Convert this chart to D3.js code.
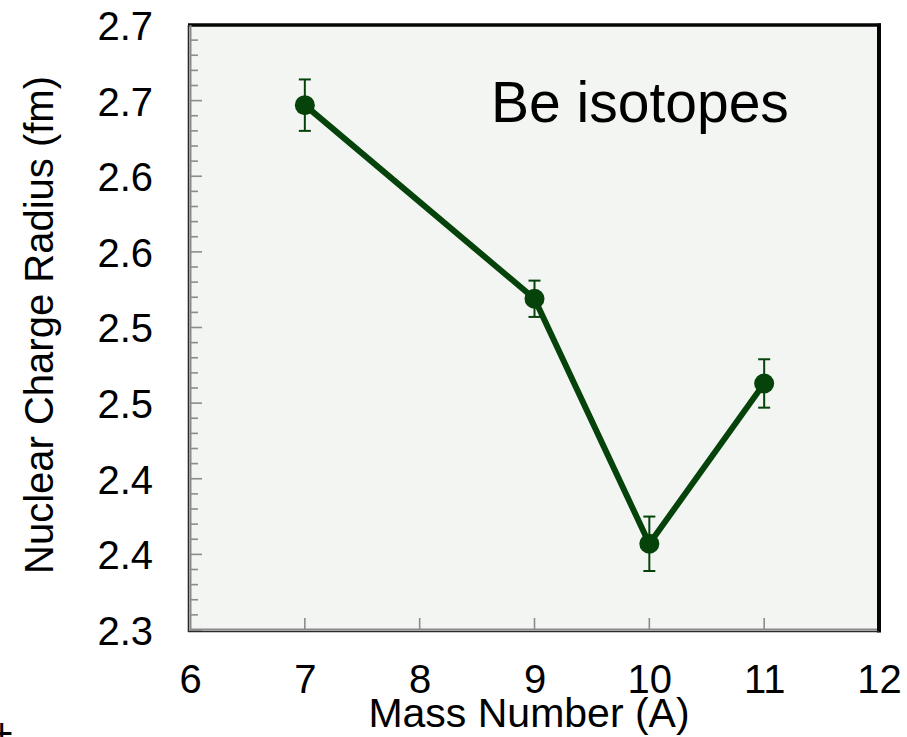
<!DOCTYPE html>
<html>
<head>
<meta charset="utf-8">
<script src="https://cdn.jsdelivr.net/npm/d3@7/dist/d3.min.js"></script>
<style>
  html, body { margin: 0; padding: 0; background: #ffffff; }
  svg { display: block; }
  text { font-family: "Liberation Sans", Arial, Helvetica, sans-serif; fill: #000; }
</style>
</head>
<body>
<svg id="chart" width="907" height="737"></svg>
<script>
// Be isotope charge radii (fm) with uncertainties
const massNumbers = [7, 9, 10, 11];
const radii       = [2.647, 2.519, 2.357, 2.463];
const radiusErrs  = [0.017, 0.012, 0.018, 0.016];

// Axis ticks and their printed labels
const xTicks      = [6, 7, 8, 9, 10, 11, 12];
const yTicks      = [2.30, 2.35, 2.40, 2.45, 2.50, 2.55, 2.60, 2.65, 2.70];
const yTickLabels = ["2.3", "2.4", "2.4", "2.5", "2.5", "2.6", "2.6", "2.7", "2.7"];
const yMinorStep  = 0.01;

(function () {
const svg = d3.select("#chart");
const pLeft = 190, pRight = 879, pTop = 25, pBottom = 630;
const green = "#06430b";

const x = d3.scaleLinear().domain([6, 12]).range([pLeft, pRight]);
const y = d3.scaleLinear().domain([2.3, 2.7]).range([pBottom, pTop]);

// plot panel
svg.append("rect")
  .attr("x", pLeft).attr("y", pTop)
  .attr("width", pRight - pLeft).attr("height", pBottom - pTop)
  .attr("fill", "#f3f5f2");

// inner tick marks (grey)
const minor = d3.range(0, Math.round((2.7 - 2.3) / yMinorStep) + 1).map(i => 2.3 + i * yMinorStep);
svg.append("g").selectAll("line").data(minor).join("line")
  .attr("x1", pLeft).attr("x2", (d, i) => pLeft + (i % 5 === 0 ? 12 : 8))
  .attr("y1", d => y(d)).attr("y2", d => y(d))
  .attr("stroke", "#8c8c8c").attr("stroke-width", 1.6);

svg.append("g").selectAll("line").data(xTicks.slice(1, -1)).join("line")
  .attr("x1", d => x(d)).attr("x2", d => x(d))
  .attr("y1", pBottom).attr("y2", pBottom - 12)
  .attr("stroke", "#8c8c8c").attr("stroke-width", 1.6);

// tick labels via d3 axes
const yAxis = d3.axisLeft(y)
  .tickValues(yTicks)
  .tickFormat((d, i) => yTickLabels[i])
  .tickSize(0).tickPadding(0);
const gy = svg.append("g").attr("transform", `translate(${pLeft - 37},0)`).call(yAxis);
gy.select(".domain").remove();
gy.selectAll("text")
  .style("font-size", "40px")
  .style("font-family", "'Liberation Sans', Arial, sans-serif")
  .attr("fill", "#000")
  .attr("dy", "0.36em");

const xAxis = d3.axisBottom(x).tickValues(xTicks).tickFormat(d3.format("d")).tickSize(0).tickPadding(0);
const gx = svg.append("g").attr("transform", `translate(0,${pBottom})`).call(xAxis);
gx.select(".domain").remove();
gx.selectAll("text")
  .style("font-size", "40px")
  .style("font-family", "'Liberation Sans', Arial, sans-serif")
  .attr("fill", "#000")
  .attr("y", 63).attr("dy", 0);

// panel frame: dark top/right, inset grey left/bottom
svg.append("line").attr("x1", pLeft - 2).attr("x2", pRight + 2).attr("y1", pTop).attr("y2", pTop)
  .attr("stroke", "#050505").attr("stroke-width", 3.5);
svg.append("line").attr("x1", pRight).attr("x2", pRight).attr("y1", pTop - 1.5).attr("y2", pBottom + 2.5)
  .attr("stroke", "#050505").attr("stroke-width", 4);
svg.append("line").attr("x1", pLeft - 1.5).attr("x2", pLeft - 1.5).attr("y1", pTop).attr("y2", pBottom + 2)
  .attr("stroke", "#2a2a2a").attr("stroke-width", 1.6);
svg.append("line").attr("x1", pLeft + 0.5).attr("x2", pLeft + 0.5).attr("y1", pTop).attr("y2", pBottom)
  .attr("stroke", "#8a8a8a").attr("stroke-width", 2);
svg.append("line").attr("x1", pLeft - 2).attr("x2", pRight).attr("y1", pBottom + 1.5).attr("y2", pBottom + 1.5)
  .attr("stroke", "#2a2a2a").attr("stroke-width", 1.6);
svg.append("line").attr("x1", pLeft).attr("x2", pRight - 2).attr("y1", pBottom - 0.5).attr("y2", pBottom - 0.5)
  .attr("stroke", "#8a8a8a").attr("stroke-width", 2);

// series
const pts = massNumbers.map((m, i) => ({ m, r: radii[i], e: radiusErrs[i] }));

const eb = svg.append("g").attr("stroke", green).attr("stroke-width", 2);
pts.forEach(p => {
  eb.append("line").attr("x1", x(p.m)).attr("x2", x(p.m)).attr("y1", y(p.r + p.e)).attr("y2", y(p.r - p.e));
  eb.append("line").attr("x1", x(p.m) - 6).attr("x2", x(p.m) + 6).attr("y1", y(p.r + p.e)).attr("y2", y(p.r + p.e));
  eb.append("line").attr("x1", x(p.m) - 6).attr("x2", x(p.m) + 6).attr("y1", y(p.r - p.e)).attr("y2", y(p.r - p.e));
});

svg.append("path").datum(pts)
  .attr("d", d3.line().x(d => x(d.m)).y(d => y(d.r)))
  .attr("fill", "none").attr("stroke", green).attr("stroke-width", 6)
  .attr("stroke-linejoin", "round");

svg.append("g").selectAll("circle").data(pts).join("circle")
  .attr("cx", d => x(d.m)).attr("cy", d => y(d.r)).attr("r", 10)
  .attr("fill", green);

// annotations and axis titles
svg.append("text").attr("x", 491).attr("y", 122)
  .style("font-size", "57px").text("Be isotopes");

svg.append("text").attr("x", 529).attr("y", 727).attr("text-anchor", "middle")
  .style("font-size", "41px").text("Mass Number (A)");

svg.append("text").attr("transform", "translate(53,325) rotate(-90)").attr("text-anchor", "middle")
  .style("font-size", "40px").text("Nuclear Charge Radius (fm)");

svg.append("text").attr("x", -10).attr("y", 747).style("font-size", "40px").text("+");
})();
</script>
</body>
</html>
